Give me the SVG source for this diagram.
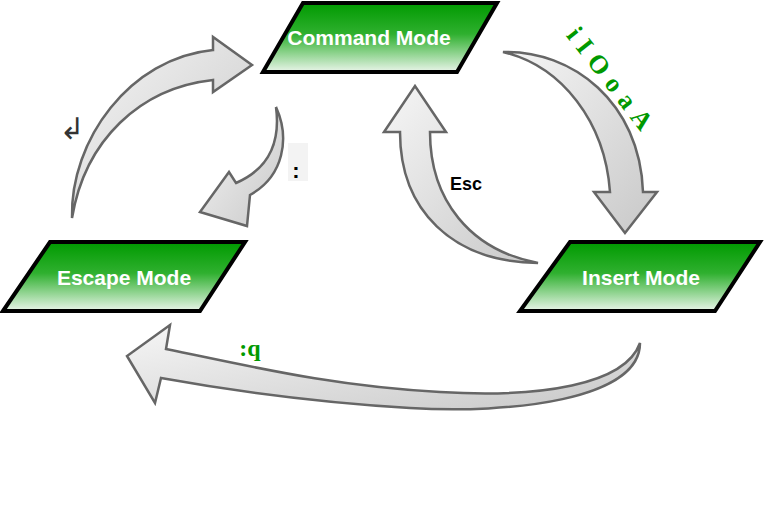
<svg xmlns="http://www.w3.org/2000/svg" width="765" height="507" viewBox="0 0 765 507">
<defs>
<linearGradient id="gn" x1="0" y1="0" x2="0" y2="1">
<stop offset="0" stop-color="#009a00"/><stop offset="0.45" stop-color="#2fb02f"/><stop offset="1" stop-color="#eaf5ea"/>
</linearGradient>
<linearGradient id="gr" x1="0" y1="0" x2="1" y2="1">
<stop offset="0" stop-color="#f6f6f6"/><stop offset="1" stop-color="#c8c8c8"/>
</linearGradient>
</defs>
<style>
.node{fill:url(#gn);stroke:#000;stroke-width:4;stroke-linejoin:miter}
.nt{font-family:"Liberation Sans",Arial,sans-serif;font-weight:bold;font-size:21px;fill:#fff;text-anchor:middle}
.arr{fill:url(#gr);stroke:#666;stroke-width:2.5;stroke-linejoin:miter}
.gl{font-family:"Liberation Serif","Times New Roman",serif;font-weight:bold;fill:#009900}
</style>
<rect width="765" height="507" fill="#fff"/>
<g id="connectors">
<path class="arr" d="M72,218 C70,140 130,58 213,50 L213,37 L252,65 L213,92 L213,80 C140,88 85,140 72,218 Z"/>
<path class="arr" d="M276,107 C290,138 284,176 250,195 L247,226 L200,212 L229,172 L236,183 C266,170 281,145 276,107 Z"/>
<path class="arr" d="M503,52 C572,50 640,102 643,192 L657,192 L625,233 L594,192 L610,192 C605,122 562,66 503,52 Z"/>
<path class="arr" d="M538,263 C452,262 400,210 400,132 L384,132 L415,86 L446,132 L430,132 C430,200 470,250 538,263 Z"/>
<path class="arr" d="M640,343 C640,400 510,414 410,408 C310,402 222,389 161,378 L155,403 L127,356 L170,325 L166,349 C250,366 330,386 440,392 C540,398 625,385 640,343 Z"/>
<rect x="288" y="143" width="20" height="38" fill="#f3f3f3"/>
<text x="296" y="178" font-family="Liberation Sans,Arial,sans-serif" font-weight="bold" font-size="22" text-anchor="middle" fill="#000">:</text>
<text x="72" y="139" font-family="DejaVu Sans,sans-serif" font-size="30" text-anchor="middle" fill="#333">↲</text>
<text x="466" y="190" font-family="Liberation Sans,Arial,sans-serif" font-weight="bold" font-size="18" text-anchor="middle" fill="#000">Esc</text>
<text class="gl" x="612" y="90" font-size="26" letter-spacing="8" text-anchor="middle" transform="rotate(52 612 82)">iIOoaA</text>
<text class="gl" x="250" y="356" font-size="24" text-anchor="middle">:q</text>
</g>
<g id="command">
<polygon class="node" points="303,3 497,3 457,72 263,72"/>
<text class="nt" x="369" y="45">Command Mode</text>
</g>
<g id="escape">
<polygon class="node" points="50,242 245,242 200,311 3,311"/>
<text class="nt" x="124" y="285">Escape Mode</text>
</g>
<g id="insert">
<polygon class="node" points="570,242 760,242 715,311 520,311"/>
<text class="nt" x="641" y="285">Insert Mode</text>
</g>
</svg>
